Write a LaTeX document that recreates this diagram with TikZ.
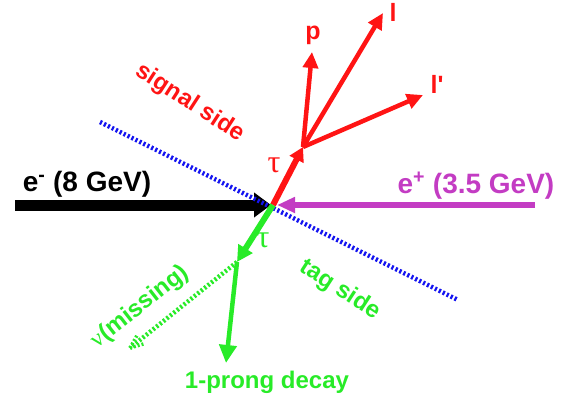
\documentclass[tikz,border=0pt]{standalone}
\usepackage{fontspec}
\setmainfont{Liberation Sans}
\newfontfamily\greekfont{Liberation Serif}
\usetikzlibrary{arrows.meta,calc}
\definecolor{myred}{RGB}{255,20,20}
\definecolor{mygreen}{RGB}{40,235,40}
\definecolor{mymag}{RGB}{195,60,195}
\definecolor{myblue}{RGB}{20,20,240}
\tikzset{
  big/.style={font=\fontsize{28}{32}\selectfont\bfseries},
  lep/.style={font=\fontsize{25}{30}\selectfont\bfseries},
  mid/.style={font=\fontsize{24}{28}\selectfont\bfseries},
  tau/.style={font=\fontsize{32}{36}\selectfont\greekfont},
  dots/.style={line width=4.5pt, dash pattern=on 2.2pt off 2.2pt},
}
\begin{document}
\begin{tikzpicture}[x=1pt,y=-1pt]
\useasboundingbox (0,0) rectangle (574,402);
% coordinates
\coordinate (ip) at (273,205);
\coordinate (eminus) at (15,205);
\coordinate (eminustip) at (271,205);
\coordinate (eplus) at (535,205);
\coordinate (eplustip) at (277,205);
\coordinate (bl1) at (100,122);
\coordinate (bl2) at (458,300);
\coordinate (vtx) at (303,147);
\coordinate (ptip) at (312,52);
\coordinate (ltip) at (383,13);
\coordinate (lptip) at (423,95);
\coordinate (gv) at (237,262);
\coordinate (prong) at (226,363);
\coordinate (nu) at (130,348);
\coordinate (nua) at ($(nu)!14pt!22:(gv)$);
\coordinate (nub) at ($(nu)!14pt!-22:(gv)$);
% beams
\draw[black, line width=11pt, -{Triangle[length=17pt,width=24pt]}] (eminus) -- (eminustip);
\draw[mymag, line width=6pt, -{Triangle[length=18pt,width=15pt]}] (eplus) -- (eplustip);
% separating line
\draw[myblue, dots] (bl1) -- (bl2);
% signal side
\draw[myred, line width=6pt, -{Triangle[length=14pt,width=15pt]}] (ip) -- (vtx);
\draw[myred, line width=4.5pt, -{Triangle[length=16pt,width=15pt]}] (vtx) -- (ptip);
\draw[myred, line width=4.5pt, -{Triangle[length=16pt,width=15pt]}] (vtx) -- (ltip);
\draw[myred, line width=4.5pt, -{Triangle[length=16pt,width=15pt]}] (vtx) -- (lptip);
% tag side
\draw[mygreen, line width=6pt, -{Triangle[length=16pt,width=16pt]}] (ip) -- (gv);
\draw[mygreen, line width=4.5pt, -{Triangle[length=18pt,width=17pt]}] (gv) -- (prong);
\draw[mygreen, dots] (gv) -- (nu);
\draw[mygreen, line width=3.5pt, dash pattern=on 2pt off 2pt] (nu) -- (nua);
\draw[mygreen, line width=3.5pt, dash pattern=on 2pt off 2pt] (nu) -- (nub);
% labels
\node[big, anchor=base] (lem) at (87,191) {e\textsuperscript{-} (8 GeV)};
\node[big, mymag, anchor=base] (lep) at (476,193) {e\textsuperscript{+} (3.5 GeV)};
\node[mid, myred, rotate=-33] (lsig) at (190,103) {signal side};
\node[mid, mygreen, rotate=-33] (ltag) at (340,290) {tag side};
\node[mid, mygreen, rotate=38, inner sep=0pt] (lnu) at (140,307) {{\mdseries\greekfont ν}(missing)};
\node[mid, mygreen, anchor=base] (lprong) at (267,388) {1-prong decay};
\node[lep, myred, anchor=base] (lp) at (313,39) {p};
\node[lep, myred, anchor=base] (ll) at (393,21) {l};
\node[lep, myred, anchor=base] (llp) at (437,93) {l\textquotesingle};
\node[tau, myred] (ltaur) at (274,165) {τ};
\node[tau, mygreen] (ltaug) at (263,240) {τ};
\end{tikzpicture}
\end{document}
